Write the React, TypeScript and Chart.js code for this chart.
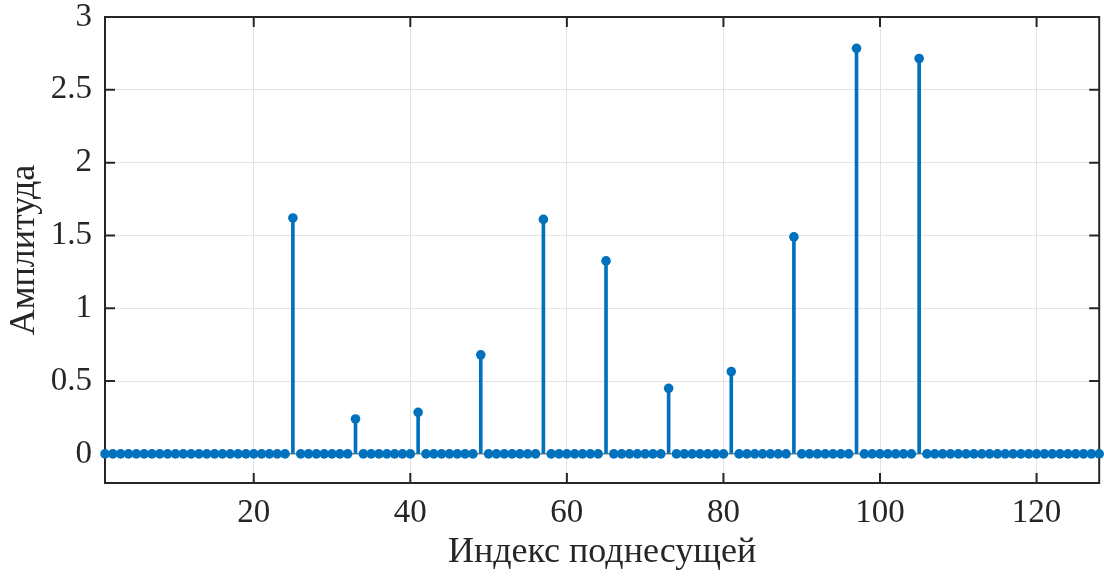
import { useEffect, useRef } from 'react';
import { Chart, registerables } from 'chart.js';

Chart.register(...registerables);

// Subcarrier amplitudes, indices 1..128 (16 per row)
const amplitude: number[] = [
  0, 0, 0, 0, 0, 0, 0, 0, 0, 0, 0, 0, 0, 0, 0, 0,
  0, 0, 0, 0, 0, 0, 0, 0, 1.62, 0, 0, 0, 0, 0, 0, 0,
  0.24, 0, 0, 0, 0, 0, 0, 0, 0.285, 0, 0, 0, 0, 0, 0, 0,
  0.68, 0, 0, 0, 0, 0, 0, 0, 1.61, 0, 0, 0, 0, 0, 0, 0,
  1.325, 0, 0, 0, 0, 0, 0, 0, 0.45, 0, 0, 0, 0, 0, 0, 0,
  0.565, 0, 0, 0, 0, 0, 0, 0, 1.49, 0, 0, 0, 0, 0, 0, 0,
  2.785, 0, 0, 0, 0, 0, 0, 0, 2.715, 0, 0, 0, 0, 0, 0, 0,
  0, 0, 0, 0, 0, 0, 0, 0, 0, 0, 0, 0, 0, 0, 0, 0,
];
const subcarrierIndex: number[] = amplitude.map((_, i) => i + 1);

const xTicks = [20, 40, 60, 80, 100, 120];
const yTicks = [0, 0.5, 1, 1.5, 2, 2.5, 3];
const xRange = [1, 128];
const yRange = [-0.2, 3];

const xTitle = 'Индекс поднесущей';
const yTitle = 'Амплитуда';

const STEM_COLOR = '#0072BD';
const AXIS_COLOR = '#262626';
const GRID_COLOR = '#e3e3e3';
const FONT = '"Liberation Serif", "Times New Roman", Times, serif';

// Axes box with inward tick marks on all four sides
const boxPlugin = {
  id: 'axesBox',
  beforeDatasetsDraw(chart: any) {
    const { ctx, chartArea: a, scales } = chart;
    const tl = 10;
    ctx.save();
    ctx.strokeStyle = AXIS_COLOR;
    ctx.lineWidth = 2;
    ctx.beginPath();
    for (const v of xTicks) {
      const px = scales.x.getPixelForValue(v);
      ctx.moveTo(px, a.bottom);
      ctx.lineTo(px, a.bottom - tl);
      ctx.moveTo(px, a.top);
      ctx.lineTo(px, a.top + tl);
    }
    for (const v of yTicks) {
      const py = scales.y.getPixelForValue(v);
      ctx.moveTo(a.left, py);
      ctx.lineTo(a.left + tl, py);
      ctx.moveTo(a.right, py);
      ctx.lineTo(a.right - tl, py);
    }
    ctx.stroke();
    ctx.strokeRect(a.left, a.top, a.right - a.left, a.bottom - a.top);
    ctx.restore();
  },
};

export default function App() {
  const canvasRef = useRef<HTMLCanvasElement | null>(null);

  useEffect(() => {
    const canvas = canvasRef.current;
    if (!canvas) return;

    const points = subcarrierIndex.map((x, i) => ({ x, y: amplitude[i] }));

    const chart = new Chart(canvas, {
      type: 'scatter',
      data: {
        datasets: [
          {
            type: 'scatter',
            label: 'markers',
            data: points,
            pointRadius: 4.8,
            pointBackgroundColor: STEM_COLOR,
            pointBorderWidth: 0,
            pointHoverRadius: 4.8,
            clip: false,
            order: 0,
          } as any,
          {
            type: 'bar',
            label: 'stems',
            data: points,
            backgroundColor: STEM_COLOR,
            borderWidth: 0,
            barThickness: 3,
            grouped: false,
            clip: false,
            order: 1,
          } as any,
          {
            type: 'line',
            label: 'baseline',
            data: [
              { x: xRange[0], y: 0 },
              { x: xRange[1], y: 0 },
            ],
            borderColor: AXIS_COLOR,
            borderWidth: 0.8,
            pointRadius: 0,
            order: 2,
          } as any,
        ],
      },
      options: {
        animation: false,
        responsive: false,
        maintainAspectRatio: false,
        events: [],
        layout: { padding: { left: 0, right: 3, top: 17, bottom: 0 } },
        plugins: {
          legend: { display: false },
          tooltip: { enabled: false },
        },
        scales: {
          x: {
            type: 'linear',
            min: xRange[0],
            max: xRange[1],
            offset: false,
            afterBuildTicks: (s: any) => {
              s.ticks = xTicks.map((value) => ({ value }));
            },
            afterFit: (s: any) => {
              s.height = 95;
              s.paddingLeft = 0;
              s.paddingRight = 0;
            },
            grid: { color: GRID_COLOR, lineWidth: 1, drawTicks: false, offset: false },
            border: { display: false },
            ticks: {
              font: { family: FONT, size: 33 },
              color: AXIS_COLOR,
              padding: 11,
              maxRotation: 0,
              autoSkip: false,
              callback: (v: any) => String(v),
            },
            title: {
              display: true,
              text: xTitle,
              font: { family: FONT, size: 36 },
              color: AXIS_COLOR,
              padding: { top: 0, bottom: 4 },
            },
          },
          y: {
            type: 'linear',
            min: yRange[0],
            max: yRange[1],
            afterBuildTicks: (s: any) => {
              s.ticks = yTicks.map((value) => ({ value }));
            },
            afterFit: (s: any) => {
              s.width = 105;
              s.paddingTop = 0;
              s.paddingBottom = 0;
            },
            grid: { color: GRID_COLOR, lineWidth: 1, drawTicks: false },
            border: { display: false },
            ticks: {
              font: { family: FONT, size: 33 },
              color: AXIS_COLOR,
              padding: 13,
              autoSkip: false,
              callback: (v: any) => String(v),
            },
            title: {
              display: true,
              text: yTitle,
              font: { family: FONT, size: 36 },
              color: AXIS_COLOR,
              padding: { top: 3, bottom: 0 },
            },
          },
        },
      },
      plugins: [boxPlugin],
    });

    return () => chart.destroy();
  }, []);

  return (
    <div style={{ position: 'fixed', left: 0, top: 0, width: 1104, height: 578, background: '#fff' }}>
      <canvas ref={canvasRef} width={1104} height={578} />
    </div>
  );
}
